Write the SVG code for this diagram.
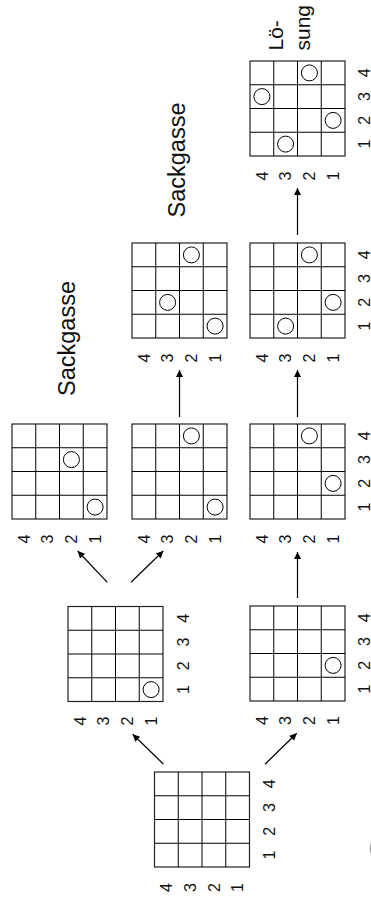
<svg xmlns="http://www.w3.org/2000/svg" xmlns:xlink="http://www.w3.org/1999/xlink" width="371" height="906" viewBox="0 0 371 906">
<style>
  .gl { fill: none; stroke: #000; stroke-width: 1; }
  .gb { fill: #fff; stroke: #222; stroke-width: 1.2; }
  .q { fill: #fff; stroke: #000; stroke-width: 1; }
  .lab { font-family: "Liberation Sans", Arial, sans-serif; font-size: 16px; fill: #111; text-anchor: middle; }
  .big { font-family: "Liberation Sans", Arial, sans-serif; font-size: 23.5px; fill: #111; }
  .sm { font-family: "Liberation Sans", Arial, sans-serif; font-size: 21px; fill: #111; }
  .con { stroke: #000; stroke-width: 1.2; fill: none; marker-end: url(#ah); }
</style>
<defs>
  <marker id="ah" viewBox="0 0 10 10" refX="10" refY="5" markerUnits="userSpaceOnUse" markerWidth="9" markerHeight="7" orient="auto">
    <path d="M0,0 L10,5 L0,10 z" fill="#000"/>
  </marker>
  <g id="grid">
    <rect class="gb" x="0" y="0" width="95" height="95"/>
    <path class="gl" d="M23.75,0 V95 M47.5,0 V95 M71.25,0 V95 M0,23.75 H95 M0,47.5 H95 M0,71.25 H95"/>
  </g>
</defs>
<rect width="371" height="906" fill="#fff"/>

<g id="connectors">
  <line class="con" x1="163.3" y1="764" x2="132.7" y2="734.3"/>
  <line class="con" x1="265" y1="764.3" x2="296.7" y2="733.3"/>
  <line class="con" x1="107.3" y1="582.3" x2="77.7" y2="551"/>
  <line class="con" x1="131" y1="582.3" x2="163.3" y2="551"/>
  <line class="con" x1="297.5" y1="598" x2="297.5" y2="552"/>
  <line class="con" x1="179.5" y1="417" x2="179.5" y2="370"/>
  <line class="con" x1="297.5" y1="417" x2="297.5" y2="370"/>
  <line class="con" x1="297.5" y1="235" x2="297.5" y2="188"/>
</g>

<g id="root">
  <use xlink:href="#grid" x="154.5" y="772"/>
  <text class="lab" transform="translate(166.4,887.5) rotate(-90)" dy="0.36em">4</text>
  <text class="lab" transform="translate(190.1,887.5) rotate(-90)" dy="0.36em">3</text>
  <text class="lab" transform="translate(213.9,887.5) rotate(-90)" dy="0.36em">2</text>
  <text class="lab" transform="translate(237.6,887.5) rotate(-90)" dy="0.36em">1</text>
  <text class="lab" transform="translate(269.5,783.9) rotate(-90)" dy="0.36em">4</text>
  <text class="lab" transform="translate(269.5,807.6) rotate(-90)" dy="0.36em">3</text>
  <text class="lab" transform="translate(269.5,831.4) rotate(-90)" dy="0.36em">2</text>
  <text class="lab" transform="translate(269.5,855.1) rotate(-90)" dy="0.36em">1</text>
</g>

<g id="s1a">
  <use xlink:href="#grid" x="68" y="606.5"/>
  <circle class="q" cx="151.1" cy="689.6" r="8"/>
  <text class="lab" transform="translate(79.9,721) rotate(-90)" dy="0.36em">4</text>
  <text class="lab" transform="translate(103.6,721) rotate(-90)" dy="0.36em">3</text>
  <text class="lab" transform="translate(127.4,721) rotate(-90)" dy="0.36em">2</text>
  <text class="lab" transform="translate(151.1,721) rotate(-90)" dy="0.36em">1</text>
  <text class="lab" transform="translate(183.5,618.4) rotate(-90)" dy="0.36em">4</text>
  <text class="lab" transform="translate(183.5,642.1) rotate(-90)" dy="0.36em">3</text>
  <text class="lab" transform="translate(183.5,665.9) rotate(-90)" dy="0.36em">2</text>
  <text class="lab" transform="translate(183.5,689.6) rotate(-90)" dy="0.36em">1</text>
</g>

<g id="s1b">
  <use xlink:href="#grid" x="250" y="606"/>
  <circle class="q" cx="333.1" cy="665.4" r="8"/>
  <text class="lab" transform="translate(261.9,720.5) rotate(-90)" dy="0.36em">4</text>
  <text class="lab" transform="translate(285.6,720.5) rotate(-90)" dy="0.36em">3</text>
  <text class="lab" transform="translate(309.4,720.5) rotate(-90)" dy="0.36em">2</text>
  <text class="lab" transform="translate(333.1,720.5) rotate(-90)" dy="0.36em">1</text>
  <text class="lab" transform="translate(364,617.9) rotate(-90)" dy="0.36em">4</text>
  <text class="lab" transform="translate(364,641.6) rotate(-90)" dy="0.36em">3</text>
  <text class="lab" transform="translate(364,665.4) rotate(-90)" dy="0.36em">2</text>
  <text class="lab" transform="translate(364,689.1) rotate(-90)" dy="0.36em">1</text>
</g>

<g id="s2a">
  <use xlink:href="#grid" x="12" y="424"/>
  <circle class="q" cx="71.4" cy="459.6" r="8"/>
  <circle class="q" cx="95.1" cy="507.1" r="8"/>
  <text class="lab" transform="translate(23.9,539) rotate(-90)" dy="0.36em">4</text>
  <text class="lab" transform="translate(47.6,539) rotate(-90)" dy="0.36em">3</text>
  <text class="lab" transform="translate(71.4,539) rotate(-90)" dy="0.36em">2</text>
  <text class="lab" transform="translate(95.1,539) rotate(-90)" dy="0.36em">1</text>
</g>

<g id="s2b">
  <use xlink:href="#grid" x="132" y="424"/>
  <circle class="q" cx="191.4" cy="435.9" r="8"/>
  <circle class="q" cx="215.1" cy="507.1" r="8"/>
  <text class="lab" transform="translate(143.9,539) rotate(-90)" dy="0.36em">4</text>
  <text class="lab" transform="translate(167.6,539) rotate(-90)" dy="0.36em">3</text>
  <text class="lab" transform="translate(191.4,539) rotate(-90)" dy="0.36em">2</text>
  <text class="lab" transform="translate(215.1,539) rotate(-90)" dy="0.36em">1</text>
</g>

<g id="s2c">
  <use xlink:href="#grid" x="250" y="424"/>
  <circle class="q" cx="309.4" cy="435.9" r="8"/>
  <circle class="q" cx="333.1" cy="483.4" r="8"/>
  <text class="lab" transform="translate(261.9,539) rotate(-90)" dy="0.36em">4</text>
  <text class="lab" transform="translate(285.6,539) rotate(-90)" dy="0.36em">3</text>
  <text class="lab" transform="translate(309.4,539) rotate(-90)" dy="0.36em">2</text>
  <text class="lab" transform="translate(333.1,539) rotate(-90)" dy="0.36em">1</text>
  <text class="lab" transform="translate(364,435.9) rotate(-90)" dy="0.36em">4</text>
  <text class="lab" transform="translate(364,459.6) rotate(-90)" dy="0.36em">3</text>
  <text class="lab" transform="translate(364,483.4) rotate(-90)" dy="0.36em">2</text>
  <text class="lab" transform="translate(364,507.1) rotate(-90)" dy="0.36em">1</text>
</g>

<g id="s3a">
  <use xlink:href="#grid" x="132" y="243"/>
  <circle class="q" cx="191.4" cy="254.9" r="8"/>
  <circle class="q" cx="167.6" cy="302.4" r="8"/>
  <circle class="q" cx="215.1" cy="326.1" r="8"/>
  <text class="lab" transform="translate(143.9,358) rotate(-90)" dy="0.36em">4</text>
  <text class="lab" transform="translate(167.6,358) rotate(-90)" dy="0.36em">3</text>
  <text class="lab" transform="translate(191.4,358) rotate(-90)" dy="0.36em">2</text>
  <text class="lab" transform="translate(215.1,358) rotate(-90)" dy="0.36em">1</text>
</g>

<g id="s3b">
  <use xlink:href="#grid" x="250" y="243"/>
  <circle class="q" cx="309.4" cy="254.9" r="8"/>
  <circle class="q" cx="333.1" cy="302.4" r="8"/>
  <circle class="q" cx="285.6" cy="326.1" r="8"/>
  <text class="lab" transform="translate(261.9,358) rotate(-90)" dy="0.36em">4</text>
  <text class="lab" transform="translate(285.6,358) rotate(-90)" dy="0.36em">3</text>
  <text class="lab" transform="translate(309.4,358) rotate(-90)" dy="0.36em">2</text>
  <text class="lab" transform="translate(333.1,358) rotate(-90)" dy="0.36em">1</text>
  <text class="lab" transform="translate(364,254.9) rotate(-90)" dy="0.36em">4</text>
  <text class="lab" transform="translate(364,278.6) rotate(-90)" dy="0.36em">3</text>
  <text class="lab" transform="translate(364,302.4) rotate(-90)" dy="0.36em">2</text>
  <text class="lab" transform="translate(364,326.1) rotate(-90)" dy="0.36em">1</text>
</g>

<g id="s4">
  <use xlink:href="#grid" x="250" y="61"/>
  <circle class="q" cx="309.4" cy="72.9" r="8"/>
  <circle class="q" cx="261.9" cy="96.6" r="8"/>
  <circle class="q" cx="333.1" cy="120.4" r="8"/>
  <circle class="q" cx="285.6" cy="144.1" r="8"/>
  <text class="lab" transform="translate(261.9,176) rotate(-90)" dy="0.36em">4</text>
  <text class="lab" transform="translate(285.6,176) rotate(-90)" dy="0.36em">3</text>
  <text class="lab" transform="translate(309.4,176) rotate(-90)" dy="0.36em">2</text>
  <text class="lab" transform="translate(333.1,176) rotate(-90)" dy="0.36em">1</text>
  <text class="lab" transform="translate(364,72.9) rotate(-90)" dy="0.36em">4</text>
  <text class="lab" transform="translate(364,96.6) rotate(-90)" dy="0.36em">3</text>
  <text class="lab" transform="translate(364,120.4) rotate(-90)" dy="0.36em">2</text>
  <text class="lab" transform="translate(364,144.1) rotate(-90)" dy="0.36em">1</text>
</g>

<g id="notes">
  <text class="big" text-anchor="middle" transform="translate(75,338.5) rotate(-90)">Sackgasse</text>
  <text class="big" text-anchor="middle" transform="translate(185,160) rotate(-90)">Sackgasse</text>
  <text class="sm" transform="translate(282.5,50.5) rotate(-90)">Lö-</text>
  <text class="sm" transform="translate(310,50.5) rotate(-90)">sung</text>
  <path d="M373.5,840 Q368,848.5 373.5,857" fill="none" stroke="#999" stroke-width="2"/>
</g>
</svg>
